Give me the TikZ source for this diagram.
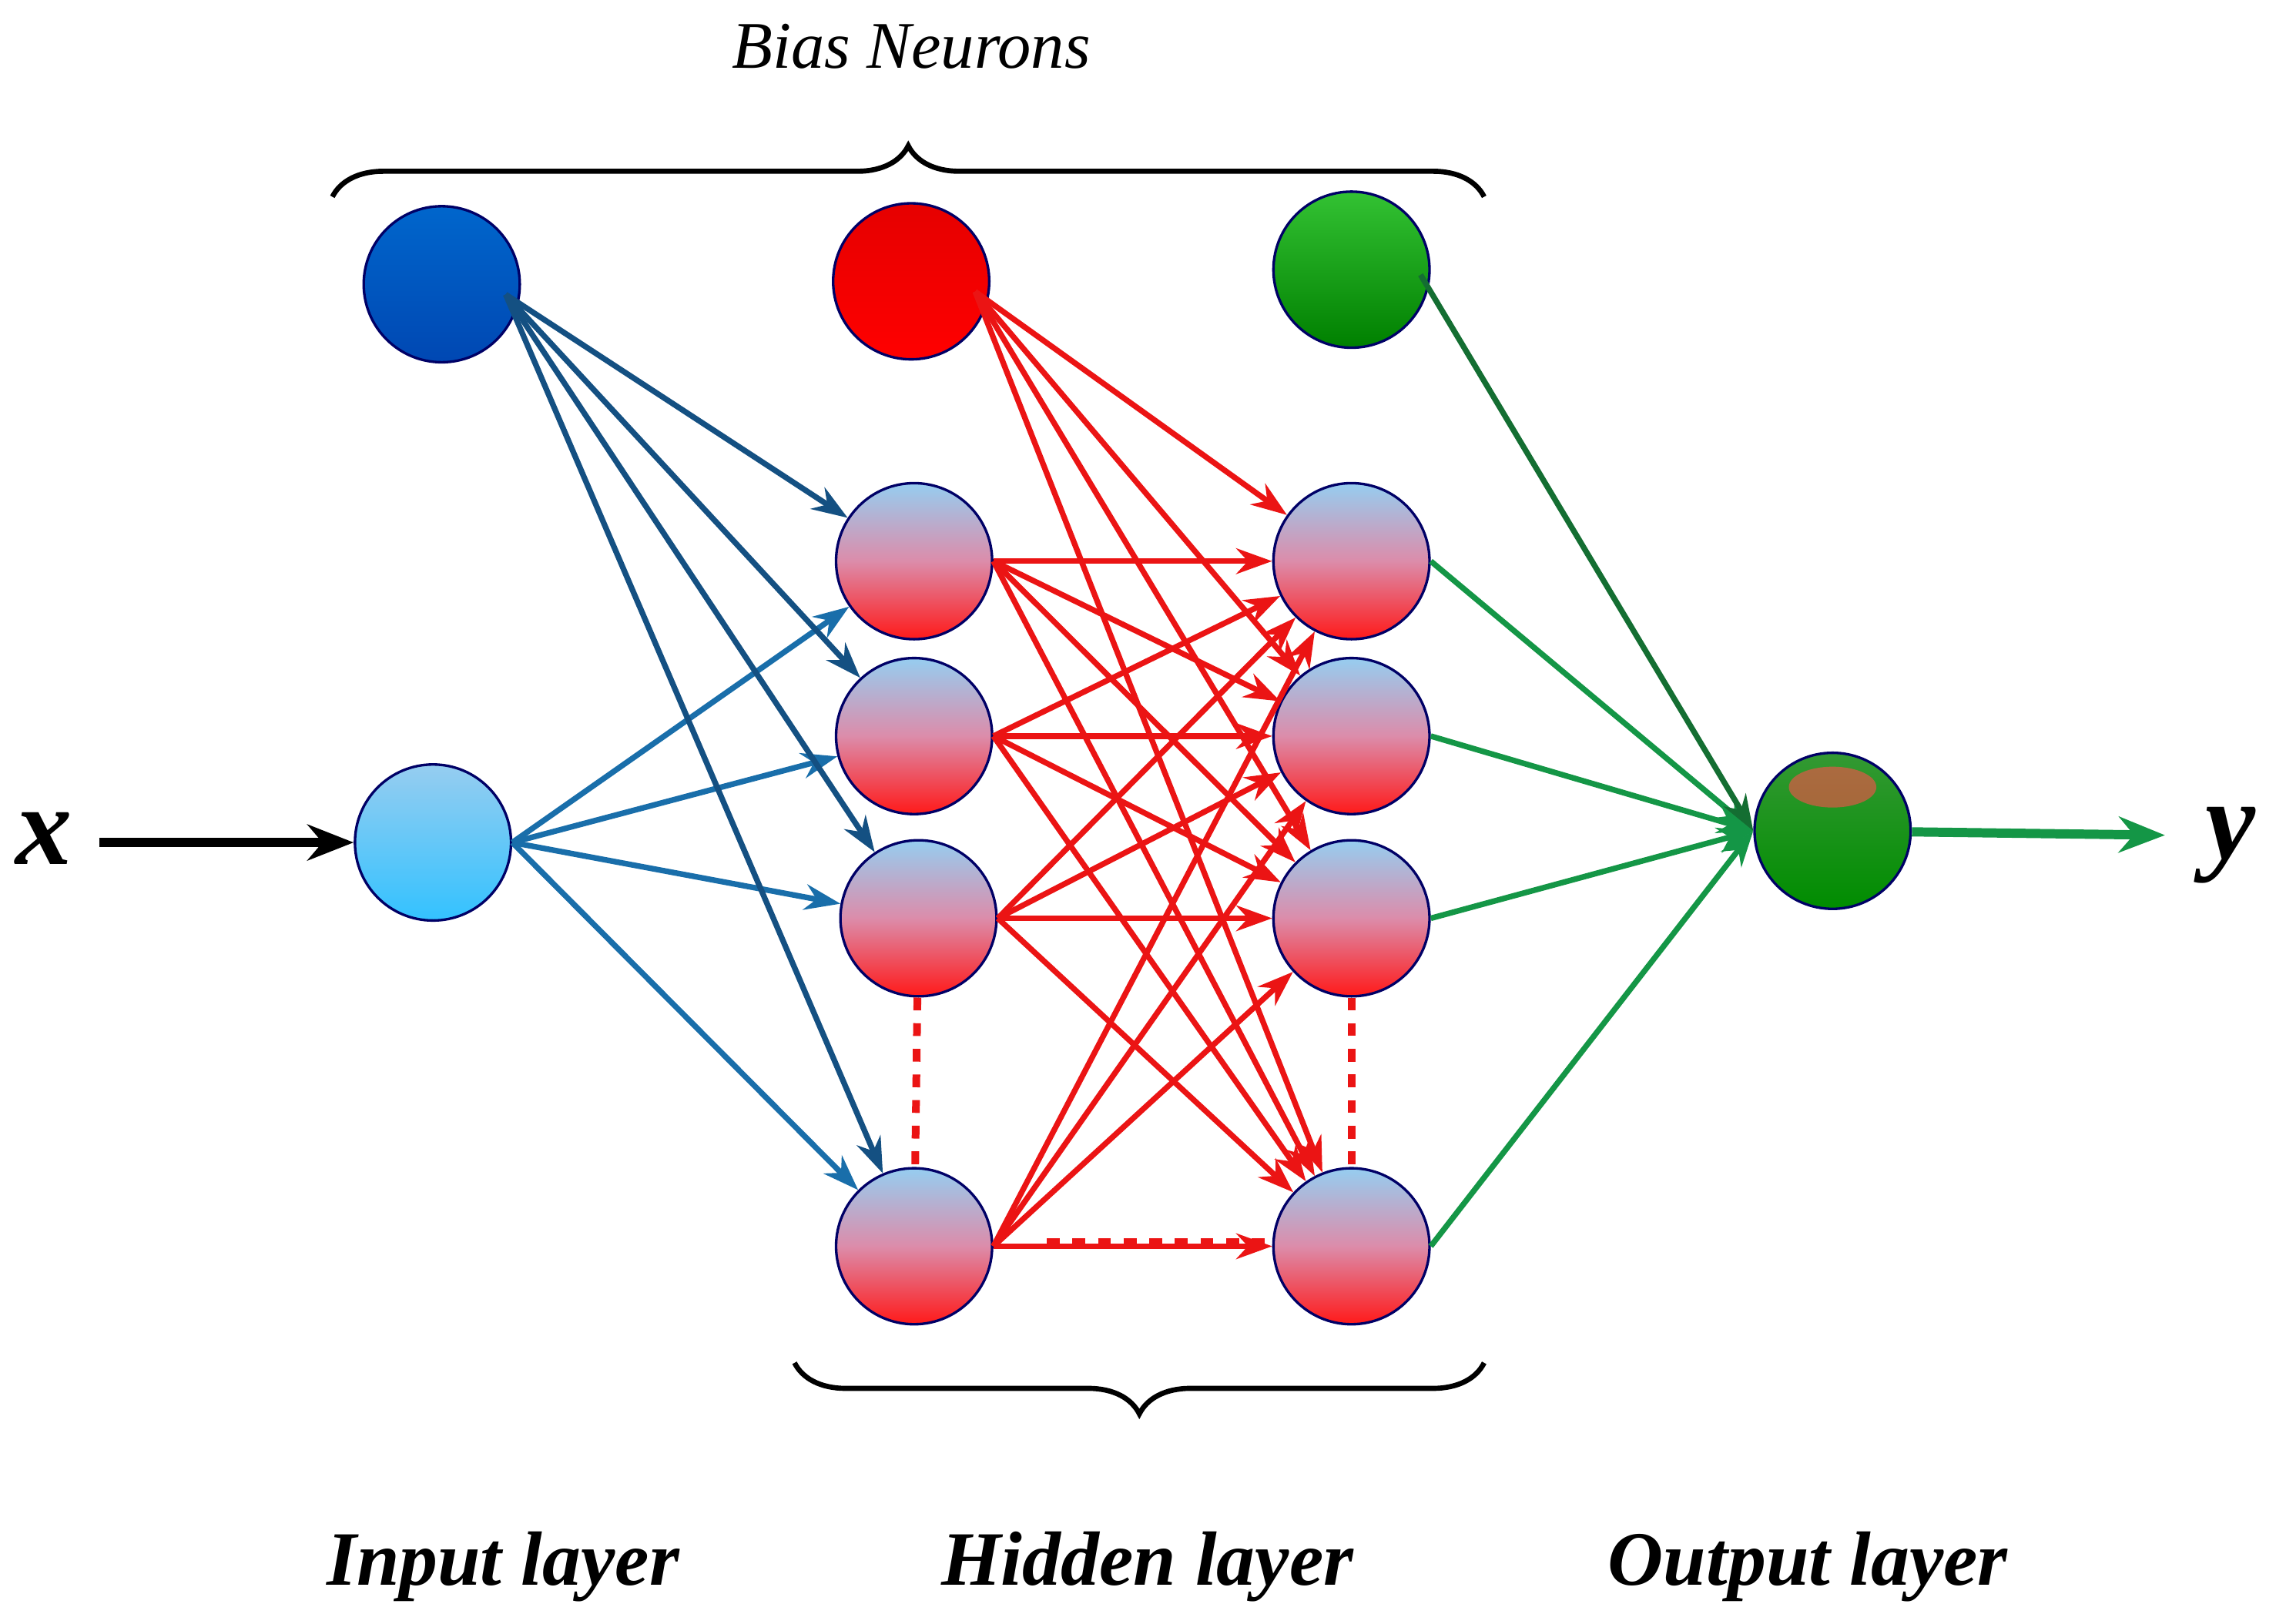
\documentclass[tikz,border=0pt]{standalone}
\usepackage{fontspec}
\setmainfont{Liberation Serif}
\usetikzlibrary{arrows.meta,decorations.pathreplacing}
\definecolor{dblue}{RGB}{20,80,130}
\definecolor{mblue}{RGB}{25,110,170}
\definecolor{dgreen}{RGB}{20,110,50}
\definecolor{mgreen}{RGB}{20,150,70}
\definecolor{nred}{RGB}{235,20,20}
\definecolor{skyb}{RGB}{150,205,240}
\definecolor{pink}{RGB}{220,140,170}
\begin{document}
\begin{tikzpicture}[x=0.01cm,y=-0.01cm,
  neuron/.style={circle,minimum size=1.07cm,inner sep=0pt,draw=black!60!blue,line width=0.5pt},
  hid/.style={neuron,top color=skyb,bottom color=red!90,middle color=pink},
  con/.style={line width=1.1pt,-{Stealth[length=7pt,width=5pt]}},
  lab/.style={font=\bfseries\itshape\fontsize{15}{17}\selectfont},
  dots/.style={nred,line width=1.5pt,dash pattern=on 2.5pt off 2.5pt}]
\useasboundingbox (0,0) rectangle (1568,1114);
\node[neuron,top color=blue!50!cyan!80!black,bottom color=blue!60!cyan!70!black] (b0) at (303,195) {};
\node[neuron,top color=red!90!black,bottom color=red] (b1) at (625,193) {};
\node[neuron,top color=green!70!black!80,bottom color=green!50!black] (b2) at (927,185) {};
\node[neuron,top color=skyb,bottom color=cyan!70!blue!80] (in) at (297,578) {};
\node[hid] (h1) at (627,385) {};
\node[hid] (h2) at (627,505) {};
\node[hid] (h3) at (630,630) {};
\node[hid] (h4) at (627,855) {};
\node[hid] (g1) at (927,385) {};
\node[hid] (g2) at (927,505) {};
\node[hid] (g3) at (927,630) {};
\node[hid] (g4) at (927,855) {};
\node[neuron,top color=green!50!black!80,bottom color=green!55!black] (out) at (1257,570) {};
\fill[red!70,opacity=0.6] (1257,540) ellipse (0.3cm and 0.14cm);
\foreach \h in {h1,h2,h3,h4}{
  \draw[con,dblue] ([shift={(-3pt,-2pt)}]b0.east) -- (\h);
  \draw[con,mblue] (in.east) -- (\h);
}
\foreach \g in {g1,g2,g3,g4}{
  \draw[con,nred] ([shift={(-3pt,-2pt)}]b1.east) -- (\g);
  \foreach \h in {h1,h2,h3,h4}{\draw[con,nred] (\h.east) -- (\g);}
  \draw[con,mgreen] (\g.east) -- (out.west);
}
\draw[con,dgreen] ([shift={(-2pt,-1pt)}]b2.east) -- (out.west);
\draw[dots] (h3) -- (h4);
\draw[dots] (g3) -- (g4);
\coordinate (d1) at (718,852);
\coordinate (d2) at (872,852);
\draw[dots] (d1) -- (d2);
\node[lab,font=\bfseries\itshape\fontsize{22}{24}\selectfont] (x) at (30,575) {x};
\coordinate (xs) at (68,578);
\draw[line width=1.8pt,-{Stealth[length=9pt,width=7pt]}] (xs) -- (in);
\node[lab,font=\bfseries\itshape\fontsize{22}{24}\selectfont] (y) at (1530,580) {y};
\coordinate (ye) at (1485,573);
\draw[mgreen,line width=1.8pt,-{Stealth[length=9pt,width=7pt]}] (out) -- (ye);
\coordinate (t1) at (228,135); \coordinate (t2) at (1018,135);
\draw[line width=1pt,decorate,decoration={brace,amplitude=0.35cm}] (t1) -- (t2);
\node[font=\itshape\fontsize{13}{15}\selectfont] (bn) at (625,32) {Bias Neurons};
\coordinate (u1) at (1018,935); \coordinate (u2) at (545,935);
\draw[line width=1pt,decorate,decoration={brace,amplitude=0.35cm}] (u1) -- (u2);
\node[lab] (il) at (345,1075) {Input layer};
\node[lab] (hl) at (787,1075) {Hidden layer};
\node[lab] (ol) at (1240,1075) {Output layer};
\end{tikzpicture}
\end{document}
